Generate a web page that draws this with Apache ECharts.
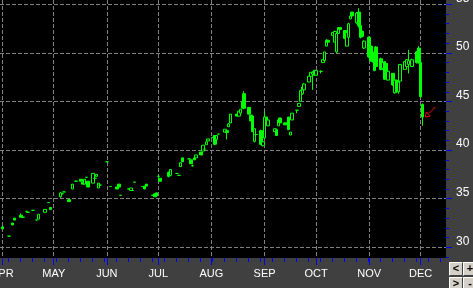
<!DOCTYPE html>
<html><head><meta charset="utf-8">
<script src="https://cdn.jsdelivr.net/npm/echarts@6/dist/echarts.min.js"></script>
<style>html,body{margin:0;padding:0;background:#404040;}#c{width:473px;height:288px;}</style>
</head><body><div id="c"></div>
<script>
// ---- data ----
const dates = [
'2010-04-01','2010-04-05','2010-04-07','2010-04-08','2010-04-12','2010-04-13','2010-04-15','2010-04-16','2010-04-19','2010-04-21','2010-04-22','2010-04-26','2010-04-28','2010-04-29',
'2010-05-05','2010-05-06','2010-05-07','2010-05-10','2010-05-12','2010-05-14','2010-05-17','2010-05-18','2010-05-19','2010-05-20','2010-05-21','2010-05-24','2010-05-25','2010-05-26','2010-05-27','2010-05-28',
'2010-06-01','2010-06-03','2010-06-07','2010-06-08','2010-06-09','2010-06-14','2010-06-15','2010-06-16','2010-06-17','2010-06-22','2010-06-23','2010-06-24','2010-06-28','2010-06-29','2010-06-30',
'2010-07-01','2010-07-02','2010-07-07','2010-07-08','2010-07-12','2010-07-13','2010-07-14','2010-07-15','2010-07-19','2010-07-20','2010-07-21','2010-07-22','2010-07-23','2010-07-26','2010-07-27','2010-07-28','2010-07-29','2010-07-30',
'2010-08-02','2010-08-03','2010-08-04','2010-08-05','2010-08-09','2010-08-10','2010-08-11','2010-08-12','2010-08-16','2010-08-17','2010-08-18','2010-08-19','2010-08-20','2010-08-23','2010-08-24','2010-08-25','2010-08-26','2010-08-27','2010-08-30','2010-08-31',
'2010-09-01','2010-09-02','2010-09-03','2010-09-07','2010-09-08','2010-09-09','2010-09-10','2010-09-13','2010-09-14','2010-09-15','2010-09-16','2010-09-17','2010-09-20','2010-09-21','2010-09-22','2010-09-23','2010-09-24','2010-09-27','2010-09-28','2010-09-29','2010-09-30',
'2010-10-01','2010-10-04','2010-10-05','2010-10-06','2010-10-07','2010-10-08','2010-10-11','2010-10-12','2010-10-13','2010-10-14','2010-10-15','2010-10-18','2010-10-19','2010-10-20','2010-10-21','2010-10-22','2010-10-25','2010-10-26','2010-10-27','2010-10-28','2010-10-29',
'2010-11-01','2010-11-02','2010-11-03','2010-11-04','2010-11-05','2010-11-08','2010-11-09','2010-11-10','2010-11-11','2010-11-12','2010-11-15','2010-11-16','2010-11-17','2010-11-18','2010-11-19','2010-11-22','2010-11-23','2010-11-24','2010-11-26','2010-11-29','2010-11-30',
'2010-12-01','2010-12-02'
];
const open = [
32.1,31.15,32.5,33.0,33.3,33.1,33.7,33.6,33.8,32.8,32.9,33.6,34.6,34.1,
35.2,35.5,35.7,34.9,36.0,36.8,37.0,36.7,36.5,37.2,36.8,36.6,37.1,37.3,36.1,36.4,
38.8,36.25,36.2,36.5,35.35,36.0,35.85,35.85,36.7,36.25,36.3,36.5,35.35,35.5,35.6,
37.3,37.1,37.7,37.4,37.6,37.4,38.3,39.2,39.1,39.0,38.4,39.2,39.2,39.8,39.9,40.1,40.55,40.95,
41.3,41.5,41.1,41.65,41.85,42.0,42.4,42.8,43.7,43.5,43.8,44.3,45.8,44.4,43.6,43.5,40.9,41.6,42.0,40.45,
41.25,43.4,42.5,41.9,42.1,42.5,43.3,42.8,42.8,43.4,41.55,43.1,44.1,44.5,45.0,45.8,46.2,47.0,47.6,47.8,48.2,
47.7,48.1,49.0,49.2,50.7,51.3,51.8,51.1,50.1,52.0,52.6,52.3,50.7,51.6,53.5,54.2,53.1,54.2,52.8,52.2,50.5,
51.6,50.7,50.1,49.6,50.6,49.4,48.4,49.1,48.9,47.2,47.9,45.9,47.2,46.0,47.1,48.3,48.6,48.8,48.6,50.1,50.5,
49.0,44.7
];
const close = [
31.9,31.15,32.3,32.8,33.1,33.1,33.7,33.6,33.8,32.8,33.4,33.9,34.6,33.9,
35.6,35.5,35.7,34.7,36.5,36.8,36.8,36.5,37.0,37.2,36.2,37.6,37.1,37.5,36.6,36.4,
38.8,36.25,36.0,36.2,35.35,36.0,36.1,35.85,36.7,36.25,36.0,36.3,35.35,35.2,35.3,
37.3,36.8,37.3,38.0,37.6,37.4,38.7,38.8,39.1,38.6,38.4,39.0,39.5,39.5,40.5,40.1,40.85,41.15,
41.3,40.6,41.5,41.65,42.15,41.8,42.7,43.7,43.5,44.0,44.2,45.0,44.3,43.7,43.0,41.9,42.2,41.6,40.6,40.85,
43.4,43.1,43.1,42.2,41.5,43.1,42.8,42.6,42.7,42.1,41.85,43.8,44.1,44.8,46.1,46.5,46.8,47.6,48.0,48.0,47.7,
48.2,48.1,49.3,50.1,51.3,51.1,52.1,52.2,52.0,52.6,52.4,51.5,52.1,53.0,53.8,53.8,54.1,52.8,51.6,51.7,51.2,
49.6,49.2,49.1,48.2,48.6,48.3,49.0,47.3,47.3,48.1,46.7,47.2,46.0,47.0,48.8,49.1,49.3,49.2,49.3,49.0,49.0,
45.5,43.4
];
const low = [
31.9,31.15,32.3,32.8,33.1,33.1,33.7,33.6,33.8,32.8,32.9,33.6,34.6,33.9,
35.1,35.5,35.7,34.7,36.0,36.8,36.8,36.5,36.5,37.2,36.2,36.6,37.0,37.3,36.1,36.4,
38.8,36.25,36.0,36.2,35.35,36.0,35.85,35.85,36.7,36.25,36.0,36.3,35.35,35.2,35.3,
37.2,36.8,37.2,37.3,37.6,37.4,38.3,38.8,39.1,38.6,38.3,39.0,39.2,39.5,39.9,40.1,40.55,40.95,
41.3,40.5,41.1,41.65,41.85,41.1,42.4,42.8,43.5,43.5,43.8,44.3,44.2,43.7,43.0,41.9,40.8,41.5,40.5,40.4,
41.2,43.0,42.5,41.9,41.5,42.5,42.8,42.6,42.7,42.1,41.55,43.1,43.8,44.5,45.0,45.7,46.1,47.0,47.6,46.2,47.7,
47.7,47.9,49.0,49.2,50.7,51.0,51.8,51.1,50.0,52.0,52.3,51.4,50.7,51.6,53.5,53.8,53.0,52.6,51.5,51.6,50.4,
49.5,49.1,49.0,48.1,48.5,48.2,48.3,47.2,47.2,47.2,46.6,45.8,45.9,45.8,47.0,48.3,48.6,47.9,48.6,48.9,48.9,
45.4,42.5
];
const high = [
32.2,31.15,32.5,33.0,33.5,33.1,33.7,33.6,33.8,32.8,33.4,33.9,34.6,34.1,
35.7,35.5,35.7,34.9,36.5,36.8,37.0,36.7,37.0,37.2,36.8,37.6,37.2,37.5,36.6,36.4,
38.8,36.25,36.2,36.5,35.35,36.0,36.1,35.85,36.7,36.25,36.3,36.5,35.35,35.5,35.6,
37.4,37.1,37.8,38.0,37.6,37.4,38.7,39.2,39.1,39.0,38.5,39.2,39.5,39.8,40.5,40.1,40.85,41.15,
41.3,41.5,41.5,41.65,42.15,42.0,42.8,43.7,43.7,44.0,44.2,45.0,46.05,44.4,43.6,43.5,42.2,41.7,42.1,40.9,
44.0,43.4,43.1,42.2,42.1,43.1,43.3,42.8,42.8,43.4,41.85,43.8,44.1,44.8,46.2,46.6,46.9,47.6,48.0,48.1,48.2,
48.2,48.2,49.3,50.1,51.4,51.3,52.1,52.3,52.1,52.6,52.6,52.3,52.1,53.1,53.8,54.2,54.2,54.6,52.9,52.3,51.3,
51.7,50.8,50.2,49.7,50.7,49.5,49.0,49.1,48.9,48.1,47.9,47.3,47.2,47.1,48.8,49.1,49.3,50.3,49.4,50.2,50.7,
49.1,44.8
];
const monthTicks = ['2010-04-01','2010-05-01','2010-06-01','2010-07-01','2010-08-01','2010-09-01','2010-10-01','2010-11-01','2010-12-01'];
const monthLabels = ['APR','MAY','JUN','JUL','AUG','SEP','OCT','NOV','DEC'];
const weekTicks = ['2010-04-04','2010-04-11','2010-04-18','2010-04-25','2010-05-02','2010-05-09','2010-05-16','2010-05-23','2010-05-30',
'2010-06-06','2010-06-13','2010-06-20','2010-06-27','2010-07-04','2010-07-11','2010-07-18','2010-07-25','2010-08-01','2010-08-08',
'2010-08-15','2010-08-22','2010-08-29','2010-09-05','2010-09-12','2010-09-19','2010-09-26','2010-10-03','2010-10-10','2010-10-17',
'2010-10-24','2010-10-31','2010-11-07','2010-11-14','2010-11-21','2010-11-28','2010-12-05','2010-12-12'];
const yTickLabels = [30,35,40,45,50,55];
const yMinorTicks = [29,30,31,32,33,34,35,36,37,38,39,40,41,42,43,44,45,46,47,48,49,50,51,52,53,54,55];

// ---- helpers ----
const DAY = 864e5;
function toUTC(s){ const p = s.split('-').map(Number); return Date.UTC(p[0], p[1]-1, p[2]); }
const monthTs = monthTicks.map(toUTC);
const weekTs = weekTicks.map(s => toUTC(s) + DAY/2);
const xMin = toUTC('2010-04-01') - 1.342*DAY;
const xMax = xMin + 260.17*DAY;
const yMin = 28.9, yMax = 55.44;

const data = dates.map((d,i) => [toUTC(d), open[i], close[i], low[i], high[i]]);
const last = data.length - 1;

const GREEN = '#00ff00', BLUE = '#0000ff', GRID = '#808080';
const FONT = 'Liberation Sans';

const chart = echarts.init(document.getElementById('c'), null, {renderer:'canvas'});

function button(x, y, txt){
  return {type:'group', x:x, y:y, silent:true, children:[
    {type:'rect', shape:{x:0,y:0,width:14,height:14}, style:{fill:'#d4d0c8'}},
    {type:'polyline', shape:{points:[[0.5,13.5],[0.5,0.5],[13.5,0.5]]}, style:{stroke:'#ffffff', fill:null, lineWidth:1}},
    {type:'polyline', shape:{points:[[0.5,13.5],[13.5,13.5],[13.5,0.5]]}, style:{stroke:'#404040', fill:null, lineWidth:1}},
    {type:'text', x:7, y:7, style:{text:txt, fill:'#000', font:'bold 11px "Liberation Sans"', align:'center', verticalAlign:'middle'}}
  ]};
}

chart.setOption({
  backgroundColor:'#404040',
  animation:false,
  grid:{left:0, right:27, top:0, bottom:30, show:true, backgroundColor:'#000000', borderWidth:0, containLabel:false, outerBoundsMode:'none'},
  xAxis:[
    {type:'value', min:xMin, max:xMax, position:'bottom', scale:true,
     axisLine:{show:false},
     axisTick:{show:true, length:7, customValues:monthTs, lineStyle:{color:BLUE, width:1}},
     axisLabel:{show:true, customValues:monthTs, hideOverlap:false, color:'#ffffff', fontFamily:FONT, fontSize:11, margin:10,
       formatter:function(v){ return monthLabels[new Date(v).getUTCMonth()-3] || ''; }},
     splitLine:{show:true, lineStyle:{color:GRID, width:1, type:[4,2]}},
     minorTick:{show:false}, minorSplitLine:{show:false}
    },
    {type:'value', min:xMin, max:xMax, position:'bottom', scale:true,
     axisLine:{show:false},
     axisTick:{show:true, length:4, customValues:weekTs, lineStyle:{color:BLUE, width:1}},
     axisLabel:{show:false}, splitLine:{show:false}
    }
  ],
  yAxis:[
    {type:'value', position:'right', min:yMin, max:yMax,
     axisLine:{show:false},
     axisTick:{show:true, length:6, customValues:yTickLabels, lineStyle:{color:BLUE, width:1}},
     axisLabel:{show:true, customValues:yTickLabels, color:'#ffffff', fontFamily:FONT, fontSize:12, margin:10, align:'left', verticalAlign:'bottom'},
     splitLine:{show:true, lineStyle:{color:GRID, width:1, type:[4,2]}}
    },
    {type:'value', position:'right', min:yMin, max:yMax,
     axisLine:{show:false},
     axisTick:{show:true, length:3, customValues:yMinorTicks, lineStyle:{color:BLUE, width:1}},
     axisLabel:{show:false}, splitLine:{show:false}
    }
  ],
  series:[{
    type:'candlestick', xAxisIndex:0, yAxisIndex:0,
    encode:{x:0, y:[1,2,3,4]},
    data:data,
    barWidth:3,
    itemStyle:{color:'#000000', color0:GREEN, borderColor:GREEN, borderColor0:GREEN, borderWidth:1},
    markPoint:{
      silent:true,
      symbol:'path://M12,0L4.5,7.5M0,12L1.2,6L6,10.8Z',
      symbolSize:10, symbolOffset:[8,-5], symbolKeepAspect:true,
      itemStyle:{color:'transparent', borderColor:'#ff0000', borderWidth:1},
      label:{show:false},
      data:[{coord:[data[last][0], close[last]]}]
    }
  }],
  graphic:[
    button(449, 262, '<'), button(463, 262, '+'),
    button(449, 277, '>'), button(463, 277, '-')
  ]
});
</script></body></html>
